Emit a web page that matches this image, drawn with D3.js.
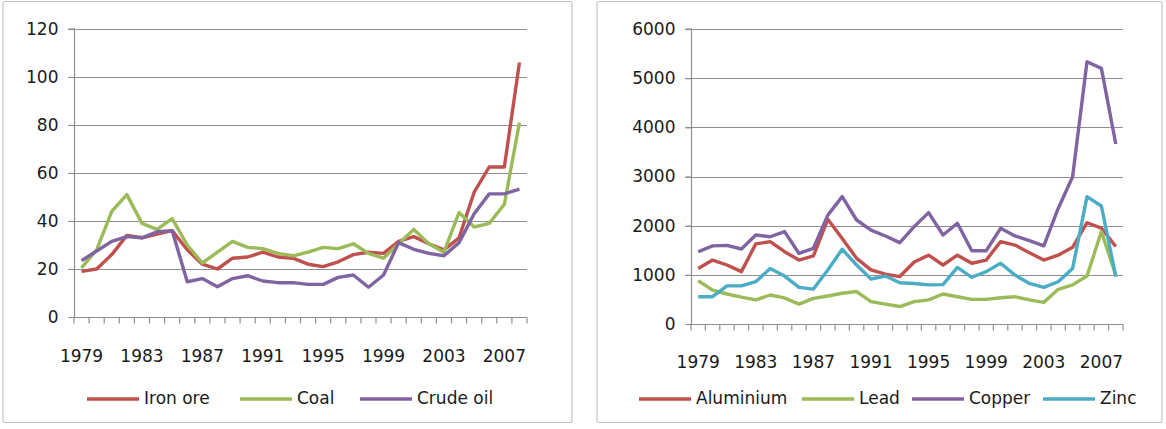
<!DOCTYPE html>
<html>
<head>
<meta charset="utf-8">
<script src="https://cdn.jsdelivr.net/npm/d3@7"></script>
<style>
  html, body { margin: 0; padding: 0; background: #fff; }
  svg { display: block; }
  text { font-family: "DejaVu Sans", Verdana, sans-serif; fill: #1a1a1a; }
</style>
</head>
<body>
<svg id="chart" width="1166" height="429"></svg>
<script>
// ---------- DATA ----------
const years = [1979,1980,1981,1982,1983,1984,1985,1986,1987,1988,1989,1990,1991,1992,1993,
               1994,1995,1996,1997,1998,1999,2000,2001,2002,2003,2004,2005,2006,2007,2008];
const yearLabels = [1979,1983,1987,1991,1995,1999,2003,2007];

// Left chart
const ironOre  = [19,20,26,34,33,34.5,36,28,22,20,24.5,25,27,25,24.5,22,21,23,26,27,26.5,31.5,33.5,30.5,28,33,52,62.5,62.5,106];
const coal     = [20.5,28,44,51,39,36.5,41,30,22.5,27,31.5,29,28.5,26.5,25.5,27,29,28.5,30.5,26.5,24.5,30.5,36.5,30.5,27,43.5,37.5,39,47,81];
const crudeOil = [23.5,27.5,31.5,33.5,33,35.5,36,14.7,16,12.6,16,17.2,15,14.3,14.3,13.6,13.6,16.5,17.5,12.4,17.5,31,28.2,26.5,25.5,31,43,51.3,51.3,53.3];
const leftTicks = [0,20,40,60,80,100,120];

// Right chart
const aluminium = [1130,1300,1200,1065,1630,1675,1470,1300,1385,2130,1740,1335,1100,1015,965,1260,1400,1200,1400,1235,1300,1675,1605,1450,1300,1400,1560,2060,1950,1575];
const lead      = [880,690,610,545,490,590,530,405,520,570,625,660,455,405,355,455,490,610,555,500,500,535,555,490,440,705,795,975,1880,990];
const copper    = [1470,1590,1600,1525,1810,1775,1880,1435,1540,2215,2590,2115,1910,1790,1655,1980,2265,1810,2050,1490,1490,1945,1790,1695,1590,2350,2995,5335,5200,3660];
const zinc      = [555,555,775,775,860,1130,975,745,710,1100,1520,1200,915,975,840,825,795,800,1150,950,1065,1235,995,825,745,860,1130,2590,2400,965];
const rightTicks = [0,1000,2000,3000,4000,5000,6000];

const seriesLeftNames  = ["Iron ore","Coal","Crude oil"];
const seriesRightNames = ["Aluminium","Lead","Copper","Zinc"];

// ---------- STYLE / LAYOUT ----------
const RED = "#C0504D", GREEN = "#9BBB59", PURPLE = "#8064A2", CYAN = "#4BACC6";
const GRID = "#8f8f8f";

const svg = d3.select("#chart");

function drawPanel(cfg) {
  const g = svg.append("g");
  g.append("rect")
    .attr("x", cfg.frame[0]).attr("y", cfg.frame[1])
    .attr("width", cfg.frame[2]).attr("height", cfg.frame[3])
    .attr("rx", 2).attr("fill", "#fff")
    .attr("stroke", "#c4c4c4").attr("stroke-width", 1.2);

  const x = d3.scaleBand().domain(cfg.categories).range([cfg.x0, cfg.x1]).padding(0);
  const y = d3.scaleLinear().domain(cfg.yDomain).range([cfg.yBottom, cfg.yTop]);

  g.selectAll(".grid").data(cfg.yTicks.filter(t => t !== 0)).join("line")
    .attr("x1", cfg.x0 - 6).attr("x2", cfg.x1)
    .attr("y1", d => Math.round(y(d)) + 0.5).attr("y2", d => Math.round(y(d)) + 0.5)
    .attr("stroke", GRID).attr("stroke-width", 1.2);

  const yAxis = d3.axisLeft(y).tickValues(cfg.yTicks).tickSize(6).tickPadding(10).tickFormat(d3.format("d"));
  const ya = g.append("g").attr("transform", `translate(${cfg.x0 + 0.5},0)`).call(yAxis);
  ya.select(".domain").attr("stroke", GRID).attr("stroke-width", 1.2)
    .attr("d", `M-6,${y(cfg.yDomain[1])}H0V${y(0)}`);
  ya.selectAll(".tick line").attr("stroke", GRID).attr("stroke-width", 1.2);
  ya.selectAll(".tick text").attr("font-size", 17).attr("fill", "#1a1a1a")
    .attr("font-family", "DejaVu Sans, Verdana, sans-serif");

  const y0 = Math.round(y(0)) + 0.5;
  g.append("line").attr("x1", cfg.x0).attr("x2", cfg.x1).attr("y1", y0).attr("y2", y0)
    .attr("stroke", GRID).attr("stroke-width", 1.2);
  const bounds = cfg.categories.map(c => x(c)).concat([x.range()[1]]);
  g.selectAll(".xt").data(bounds).join("line")
    .attr("x1", d => d).attr("x2", d => d).attr("y1", y0).attr("y2", y0 + 6)
    .attr("stroke", GRID).attr("stroke-width", 1.2);

  const xAxis = d3.axisBottom(x).tickValues(cfg.labels).tickSize(0).tickPadding(0);
  const xa = g.append("g").attr("transform", `translate(0,${cfg.xLabelY})`).call(xAxis);
  xa.select(".domain").remove();
  xa.selectAll(".tick text").attr("font-size", 17).attr("fill", "#1a1a1a").attr("dy", 0)
    .attr("font-family", "DejaVu Sans, Verdana, sans-serif");

  const line = d3.line().x((d, i) => x(cfg.categories[i]) + x.bandwidth() / 2).y(d => y(d));
  cfg.series.forEach(s => {
    g.append("path").datum(s.values).attr("d", line)
      .attr("fill", "none").attr("stroke", s.color).attr("stroke-width", 3.4)
      .attr("stroke-linejoin", "round").attr("stroke-linecap", "butt");
  });

  cfg.series.forEach((s, i) => {
    const lx = cfg.legendX[i];
    g.append("line").attr("x1", lx).attr("x2", lx + 52)
      .attr("y1", cfg.legendY - 5).attr("y2", cfg.legendY - 5)
      .attr("stroke", s.color).attr("stroke-width", 3.4);
    g.append("text").attr("x", lx + 57).attr("y", cfg.legendY)
      .attr("font-size", 17).text(s.name);
  });
}

drawPanel({
  frame: [3, 1.5, 569, 421],
  categories: years, labels: yearLabels,
  x0: 74, x1: 527, yTop: 29, yBottom: 317, yDomain: [0, 120], yTicks: leftTicks,
  xLabelY: 362, legendY: 404, legendX: [87, 240, 360],
  series: [
    { name: seriesLeftNames[0], values: ironOre, color: RED },
    { name: seriesLeftNames[1], values: coal, color: GREEN },
    { name: seriesLeftNames[2], values: crudeOil, color: PURPLE }
  ]
});

drawPanel({
  frame: [597, 1.5, 565, 421],
  categories: years, labels: yearLabels,
  x0: 691, x1: 1123, yTop: 29, yBottom: 324, yDomain: [0, 6000], yTicks: rightTicks,
  xLabelY: 368, legendY: 404, legendX: [639, 802, 912, 1043],
  series: [
    { name: seriesRightNames[0], values: aluminium, color: RED },
    { name: seriesRightNames[1], values: lead, color: GREEN },
    { name: seriesRightNames[2], values: copper, color: PURPLE },
    { name: seriesRightNames[3], values: zinc, color: CYAN }
  ]
});
</script>
</body>
</html>
